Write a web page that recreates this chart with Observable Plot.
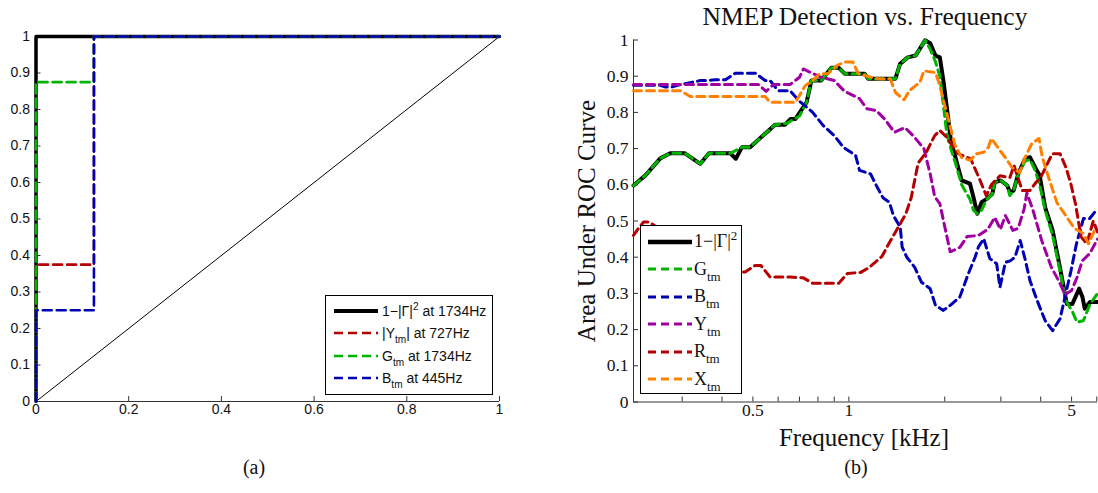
<!DOCTYPE html>
<html><head><meta charset="utf-8">
<script src="https://cdn.jsdelivr.net/npm/d3@7"></script>
<script src="https://cdn.jsdelivr.net/npm/@observablehq/plot@0.6"></script>
<style>
body{margin:0;background:#fff;}
#wrap{position:relative;width:1098px;height:493px;overflow:hidden;background:#fff;}
.abs{position:absolute;white-space:nowrap;}
.serif{font-family:"Liberation Serif","Times New Roman",serif;color:#111;}
.sans{font-family:"Liberation Sans",Arial,sans-serif;color:#111;}
.leg{position:absolute;background:#fff;border:1px solid #000;box-sizing:border-box;}
.row{display:flex;align-items:center;}
sub{font-size:72%;vertical-align:-0.45em;line-height:0;}
sup{font-size:72%;vertical-align:0.55em;line-height:0;}
</style></head><body><div id="wrap"></div>
<script>
// ---------- Panel (a): ROC curves [false-positive rate, true-positive rate] ----------
const rocGamma = [[0,0],[0,1],[1,1]];
const rocY     = [[0,0],[0,0.375],[0.125,0.375],[0.125,1],[1,1]];
const rocG     = [[0,0],[0,0.875],[0.125,0.875],[0.125,1],[1,1]];
const rocB     = [[0,0],[0,0.25],[0.125,0.25],[0.125,1],[1,1]];
const rocChance = [[0,0],[1,1]];
const rocTicksX = [0,0.2,0.4,0.6,0.8,1];
const rocTicksY = [0,0.1,0.2,0.3,0.4,0.5,0.6,0.7,0.8,0.9,1];
const rocLabels = ["1\u2212|\u0393|<sup>2</sup> at 1734Hz","|Y<sub>tm</sub>| at 727Hz","G<sub>tm</sub> at 1734Hz","B<sub>tm</sub> at 445Hz"];

// ---------- Panel (b): AUC vs frequency [kHz, AUC] ----------
const aucGamma = [[0.211,0.598],[0.230,0.626],[0.256,0.673],[0.275,0.687],[0.306,0.687],[0.342,0.658],[0.364,0.687],[0.425,0.687],[0.442,0.672],[0.462,0.704],[0.490,0.704],[0.587,0.766],[0.631,0.766],[0.657,0.782],[0.680,0.782],[0.737,0.828],[0.763,0.888],[0.819,0.888],[0.880,0.923],[0.930,0.923],[0.970,0.907],[1.12,0.907],[1.15,0.893],[1.40,0.893],[1.448,0.934],[1.53,0.952],[1.62,0.957],[1.735,0.999],[1.80,0.991],[1.87,0.957],[1.93,0.952],[1.98,0.888],[2.03,0.814],[2.09,0.722],[2.16,0.676],[2.26,0.612],[2.40,0.603],[2.46,0.566],[2.53,0.52],[2.61,0.552],[2.71,0.561],[2.82,0.575],[2.87,0.607],[3.00,0.612],[3.14,0.598],[3.20,0.580],[3.29,0.584],[3.40,0.630],[3.57,0.672],[3.70,0.676],[3.84,0.649],[3.97,0.626],[4.13,0.538],[4.36,0.474],[4.53,0.400],[4.70,0.327],[4.83,0.271],[5.03,0.271],[5.28,0.313],[5.41,0.290],[5.50,0.258],[5.71,0.276],[6.03,0.276]];
const aucG = [[0.211,0.598],[0.230,0.626],[0.256,0.673],[0.275,0.687],[0.306,0.687],[0.342,0.658],[0.364,0.687],[0.425,0.687],[0.462,0.704],[0.490,0.704],[0.587,0.766],[0.64,0.770],[0.70,0.790],[0.737,0.828],[0.763,0.888],[0.819,0.888],[0.880,0.923],[0.930,0.923],[0.970,0.907],[1.12,0.907],[1.15,0.893],[1.40,0.893],[1.448,0.934],[1.53,0.952],[1.62,0.957],[1.735,0.999],[1.80,0.975],[1.87,0.94],[1.93,0.90],[1.98,0.82],[2.03,0.74],[2.09,0.70],[2.16,0.66],[2.26,0.60],[2.40,0.56],[2.46,0.53],[2.53,0.52],[2.61,0.53],[2.71,0.56],[2.82,0.575],[2.87,0.607],[3.00,0.612],[3.14,0.598],[3.20,0.570],[3.29,0.584],[3.40,0.630],[3.57,0.665],[3.70,0.670],[3.84,0.640],[3.97,0.600],[4.13,0.530],[4.36,0.460],[4.53,0.390],[4.70,0.320],[4.83,0.275],[5.03,0.250],[5.20,0.220],[5.45,0.225],[5.71,0.270],[6.03,0.300]];
const aucB = [[0.211,0.875],[0.256,0.875],[0.266,0.870],[0.278,0.870],[0.290,0.875],[0.342,0.888],[0.355,0.888],[0.38,0.890],[0.41,0.890],[0.44,0.908],[0.51,0.908],[0.546,0.888],[0.566,0.888],[0.60,0.860],[0.654,0.860],[0.70,0.831],[0.77,0.80],[0.83,0.764],[0.90,0.736],[0.96,0.704],[1.05,0.681],[1.08,0.640],[1.17,0.630],[1.22,0.598],[1.28,0.564],[1.34,0.552],[1.38,0.515],[1.45,0.483],[1.47,0.428],[1.52,0.40],[1.61,0.372],[1.69,0.331],[1.80,0.313],[1.87,0.267],[1.98,0.253],[2.08,0.267],[2.23,0.29],[2.37,0.354],[2.49,0.40],[2.55,0.428],[2.65,0.451],[2.77,0.396],[2.91,0.382],[2.98,0.317],[3.10,0.386],[3.21,0.39],[3.32,0.40],[3.45,0.446],[3.57,0.396],[3.70,0.336],[3.90,0.28],[4.13,0.225],[4.36,0.197],[4.60,0.23],[4.78,0.294],[4.98,0.363],[5.18,0.437],[5.45,0.507],[5.70,0.507],[6.03,0.534]];
const aucY = [[0.211,0.877],[0.52,0.877],[0.55,0.858],[0.58,0.877],[0.654,0.877],[0.70,0.897],[0.72,0.92],[0.76,0.91],[0.82,0.897],[0.90,0.888],[0.97,0.858],[1.08,0.838],[1.14,0.81],[1.22,0.805],[1.30,0.78],[1.39,0.745],[1.50,0.758],[1.59,0.736],[1.72,0.70],[1.80,0.63],[1.86,0.567],[1.93,0.548],[1.99,0.493],[2.08,0.415],[2.23,0.427],[2.35,0.457],[2.55,0.46],[2.73,0.477],[2.87,0.51],[2.99,0.477],[3.10,0.515],[3.27,0.474],[3.40,0.48],[3.55,0.534],[3.62,0.578],[3.77,0.534],[4.03,0.446],[4.32,0.372],[4.55,0.336],[4.77,0.297],[5.00,0.308],[5.20,0.344],[5.40,0.39],[5.70,0.41],[6.03,0.45]];
const aucR = [[0.211,0.46],[0.221,0.485],[0.227,0.497],[0.236,0.497],[0.248,0.485],[0.28,0.45],[0.33,0.41],[0.40,0.38],[0.456,0.359],[0.473,0.359],[0.508,0.377],[0.53,0.377],[0.566,0.345],[0.654,0.345],[0.72,0.343],[0.77,0.328],[0.93,0.328],[0.99,0.355],[1.09,0.358],[1.16,0.372],[1.27,0.402],[1.34,0.44],[1.41,0.474],[1.46,0.497],[1.51,0.52],[1.57,0.565],[1.65,0.66],[1.75,0.69],[1.86,0.736],[1.93,0.75],[2.02,0.733],[2.20,0.686],[2.41,0.672],[2.56,0.62],[2.70,0.57],[2.80,0.60],[2.98,0.625],[3.20,0.62],[3.30,0.653],[3.50,0.584],[3.70,0.584],[3.87,0.607],[4.00,0.62],[4.35,0.686],[4.60,0.686],[4.80,0.648],[4.97,0.604],[5.15,0.545],[5.35,0.457],[5.58,0.437],[5.85,0.50],[6.03,0.47]];
const aucX = [[0.211,0.860],[0.296,0.860],[0.318,0.844],[0.546,0.844],[0.566,0.828],[0.68,0.828],[0.73,0.874],[0.77,0.888],[0.81,0.907],[0.86,0.907],[0.92,0.93],[0.97,0.939],[1.03,0.939],[1.07,0.907],[1.22,0.893],[1.35,0.892],[1.40,0.855],[1.49,0.835],[1.55,0.86],[1.62,0.874],[1.67,0.882],[1.72,0.915],[1.80,0.912],[1.87,0.91],[1.93,0.874],[1.98,0.833],[2.02,0.805],[2.08,0.760],[2.15,0.711],[2.26,0.675],[2.40,0.668],[2.52,0.686],[2.65,0.69],[2.74,0.703],[2.80,0.728],[2.98,0.695],[3.10,0.675],[3.25,0.648],[3.44,0.634],[3.55,0.67],[3.75,0.714],[3.95,0.728],[4.05,0.675],[4.20,0.63],[4.50,0.55],[4.75,0.52],[5.10,0.48],[5.45,0.465],[5.65,0.437],[5.90,0.474],[6.03,0.47]];
const freqDomain = [0.211, 6.03];
const freqTicks = [0.3,0.4,0.5,0.6,0.7,0.8,0.9,1,2,3,4,5,6];
const freqLabels = [0.5,1,5];
const aucTicks = [0,0.1,0.2,0.3,0.4,0.5,0.6,0.7,0.8,0.9,1];
const aucLabels = ["1\u2212|\u0393|<sup>2</sup>","G<sub>tm</sub>","B<sub>tm</sub>","Y<sub>tm</sub>","R<sub>tm</sub>","X<sub>tm</sub>"];

// colours
const cBlack="#000000", cRed="#b40000", cGreen="#00b400", cBlue="#0000b4", cPurple="#a000a0", cOrange="#ff8000";

const wrap = document.getElementById("wrap");
const fmt = d => String(+(+d).toFixed(2));
const px = d => d[0], py = d => d[1];

// ---------- Plot (a) ----------
const aW=520, aH=440, aML=35.5, aMR=21, aMT=36, aMB=39;
const aFW=aW-aML-aMR, aFH=aH-aMT-aMB;
const dashA="9,5";
const sansFont="'Liberation Sans',Arial,sans-serif";
const plotA = Plot.plot({
  width:aW, height:aH, marginLeft:aML, marginRight:aMR, marginTop:aMT, marginBottom:aMB,
  x:{domain:[0,1], label:null, axis:null}, y:{domain:[0,1], label:null, axis:null},
  style:{fontFamily:sansFont, fontSize:"14px", color:"#111", background:"transparent", overflow:"visible"},
  marks:[
    Plot.text(rocTicksX,{x:d=>d, frameAnchor:"bottom", dy:12, text:fmt, fontSize:14, fill:"#111"}),
    Plot.text(rocTicksY,{y:d=>d, frameAnchor:"left", dx:-6, textAnchor:"end", text:fmt, fontSize:14, fill:"#111"}),
    Plot.ruleX(rocTicksX,{x:d=>d, insetTop:aFH-5, stroke:"#333", strokeWidth:1}),
    Plot.ruleY(rocTicksY,{y:d=>d, insetRight:aFW-5, stroke:"#333", strokeWidth:1}),
    Plot.ruleY([0],{stroke:"#333"}),
    Plot.ruleX([0],{stroke:"#333"}),
    Plot.line(rocChance,{x:px,y:py,stroke:"#000",strokeWidth:1}),
    Plot.line(rocGamma,{x:px,y:py,stroke:cBlack,strokeWidth:3.5}),
    Plot.line(rocY,{x:px,y:py,stroke:cRed,strokeWidth:2.6,strokeDasharray:dashA}),
    Plot.line(rocG,{x:px,y:py,stroke:cGreen,strokeWidth:2.6,strokeDasharray:dashA}),
    Plot.line(rocB,{x:px,y:py,stroke:cBlue,strokeWidth:2.6,strokeDasharray:dashA})
  ]
});
plotA.style.position="absolute"; plotA.style.left="0px"; plotA.style.top="0px";
wrap.appendChild(plotA);

// ---------- Plot (b) ----------
const bLeft=540, bW=558, bH=460, bML=93, bMR=1, bMT=39.5, bMB=58.5;
const bFW=bW-bML-bMR, bFH=bH-bMT-bMB;
const dashB="8,5";
const serifFont="'Liberation Serif','Times New Roman',serif";
const plotB = Plot.plot({
  width:bW, height:bH, marginLeft:bML, marginRight:bMR, marginTop:bMT, marginBottom:bMB,
  x:{type:"log", domain:freqDomain, label:null, axis:null}, y:{domain:[0,1], label:null, axis:null},
  style:{fontFamily:serifFont, fontSize:"17.5px", color:"#111", background:"transparent", overflow:"visible"},
  marks:[
    Plot.text(freqLabels,{x:d=>d, frameAnchor:"bottom", dy:14, text:fmt, fontSize:17.5, fill:"#111"}),
    Plot.text(aucTicks,{y:d=>d, frameAnchor:"left", dx:-5, textAnchor:"end", text:fmt, fontSize:17.5, fill:"#111"}),
    Plot.ruleX(freqTicks,{x:d=>d, insetTop:bFH-5, stroke:"#333", strokeWidth:1}),
    Plot.ruleY(aucTicks,{y:d=>d, insetRight:bFW-5, stroke:"#333", strokeWidth:1}),
    Plot.ruleY([0],{stroke:"#333"}),
    Plot.ruleX([freqDomain[0]],{stroke:"#333"}),
    Plot.line(aucGamma,{x:px,y:py,stroke:cBlack,strokeWidth:4,strokeLinejoin:"round"}),
    Plot.line(aucG,{x:px,y:py,stroke:cGreen,strokeWidth:3,strokeDasharray:dashB}),
    Plot.line(aucB,{x:px,y:py,stroke:cBlue,strokeWidth:3,strokeDasharray:dashB}),
    Plot.line(aucY,{x:px,y:py,stroke:cPurple,strokeWidth:3,strokeDasharray:dashB}),
    Plot.line(aucR,{x:px,y:py,stroke:cRed,strokeWidth:3,strokeDasharray:dashB}),
    Plot.line(aucX,{x:px,y:py,stroke:cOrange,strokeWidth:3,strokeDasharray:dashB})
  ]
});
plotB.style.position="absolute"; plotB.style.left=bLeft+"px"; plotB.style.top="0px";
wrap.appendChild(plotB);

// ---------- text ----------
function addText(html, cls, css){
  const d=document.createElement("div"); d.className="abs "+cls; d.innerHTML=html;
  Object.assign(d.style, css); wrap.appendChild(d); return d;
}
addText("NMEP Detection vs. Frequency","serif",{left:"865px",top:"17px",fontSize:"25.5px",transform:"translate(-50%,-50%)"});
addText("Area Under ROC Curve","serif",{left:"587px",top:"221px",fontSize:"25px",transform:"translate(-50%,-50%) rotate(-90deg)"});
addText("Frequency [kHz]","serif",{left:"864px",top:"438px",fontSize:"25px",transform:"translate(-50%,-50%)"});
addText("(a)","serif",{left:"254px",top:"467px",fontSize:"20px",transform:"translate(-50%,-50%)"});
addText("(b)","serif",{left:"856px",top:"467px",fontSize:"20px",transform:"translate(-50%,-50%)"});

// ---------- legends ----------
function legend(labels, colors, widths, dashes, box){
  const L=document.createElement("div"); L.className="leg "+box.cls;
  Object.assign(L.style,{left:box.left+"px",top:box.top+"px",width:box.width+"px",height:box.height+"px",paddingTop:box.padTop+"px",fontSize:box.fontSize+"px"});
  labels.forEach((lab,i)=>{
    const r=document.createElement("div"); r.className="row"; r.style.height=box.rowH+"px";
    const sw=box.swW;
    r.innerHTML=`<svg width="${sw}" height="10" style="margin-left:${box.swX}px;flex:none"><line x1="0" y1="5" x2="${sw}" y2="5" stroke="${colors[i]}" stroke-width="${widths[i]}" ${dashes[i]?`stroke-dasharray="${dashes[i]}"`:""}/></svg><span style="margin-left:${box.gap}px">${lab}</span>`;
    L.appendChild(r);
  });
  wrap.appendChild(L);
}
legend(rocLabels,[cBlack,cRed,cGreen,cBlue],[4,2.6,2.6,2.6],[null,dashA,dashA,dashA],
  {cls:"sans",left:325,top:295,width:168,height:100,padTop:4,rowH:22.3,swX:8,swW:44,gap:4,fontSize:14});
legend(aucLabels,[cBlack,cGreen,cBlue,cPurple,cRed,cOrange],[4.5,3,3,3,3,3],[null,dashB,dashB,dashB,dashB,dashB,dashB],
  {cls:"serif",left:640,top:225,width:102,height:169,padTop:2,rowH:27.5,swX:7,swW:44,gap:2,fontSize:18});
</script></body></html>
